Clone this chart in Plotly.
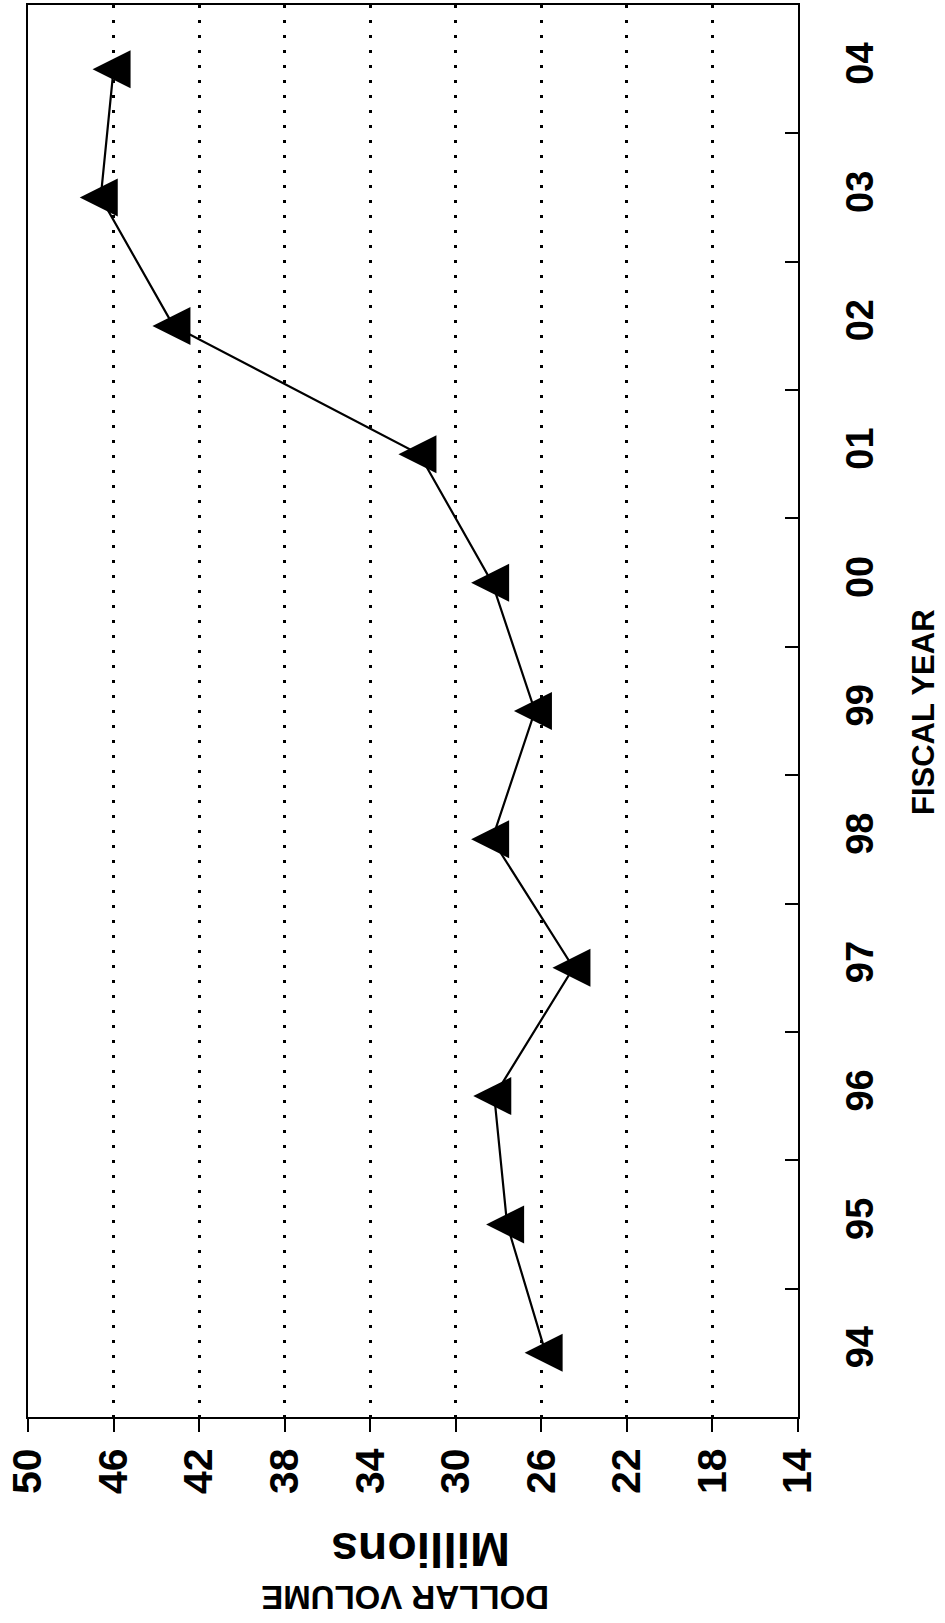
import plotly.graph_objects as go

# ---- data ----
years = ["94", "95", "96", "97", "98", "99", "00", "01", "02", "03", "04"]
dollar_volume = [25.8, 27.6, 28.2, 24.5, 28.3, 26.3, 28.3, 31.7, 43.2, 46.6, 46.0]
x_ticks = [50, 46, 42, 38, 34, 30, 26, 22, 18, 14]
x_title_line1 = "DOLLAR VOLUME"
x_title_line2 = "Millions"
y_title = "FISCAL YEAR"

FONT = "Liberation Sans, Arial, sans-serif"

# plot area in pixels (from reference)
PL, PR, PT, PB = 28, 798, 3, 1417
W, H = 945, 1623


def px_x(p):
    return (p - PL) / (PR - PL)


def px_y(p):
    return (PB - p) / (PB - PT)


fig = go.Figure(
    go.Scatter(
        x=dollar_volume,
        y=years,
        mode="lines+markers",
        line=dict(color="black", width=2.2),
        marker=dict(symbol="arrow-down", angle=90, standoff=21, size=38, color="black"),
        showlegend=False,
    )
)

xtickfont = dict(family=FONT, size=41, color="black", weight="bold")
ytickfont = dict(family=FONT, size=38, color="black", weight="bold")

fig.update_layout(
    width=W,
    height=H,
    margin=dict(l=PL, r=W - PR, t=PT, b=H - PB, pad=0),
    plot_bgcolor="white",
    paper_bgcolor="white",
    showlegend=False,
    xaxis=dict(
        range=[50, 14],
        tickmode="array",
        tickvals=x_ticks,
        ticktext=[str(v) for v in x_ticks],
        ticks="outside",
        ticklen=13,
        tickwidth=1.5,
        tickcolor="black",
        showline=True,
        linecolor="black",
        linewidth=2,
        mirror=True,
        showgrid=True,
        gridcolor="black",
        gridwidth=2.5,
        griddash="3px,12px",
        zeroline=False,
        tickangle=-90,
        tickfont=xtickfont,
        ticklabelstandoff=0,
    ),
    yaxis=dict(
        type="category",
        categoryorder="array",
        categoryarray=years,
        range=[-0.5, 10.5],
        side="right",
        tickson="boundaries",
        ticks="inside",
        ticklen=13,
        tickwidth=1.5,
        tickcolor="black",
        showline=True,
        linecolor="black",
        linewidth=2,
        mirror=True,
        showgrid=False,
        zeroline=False,
        tickangle=-90,
        tickfont=ytickfont,
        ticklabelstandoff=27,
    ),
    annotations=[
        dict(
            text=y_title, xref="paper", yref="paper",
            x=px_x(924), y=px_y(711), xanchor="center", yanchor="middle",
            textangle=-90, showarrow=False,
            font=dict(family=FONT, size=31, color="black", weight="bold"),
        ),
        dict(
            text=x_title_line2, xref="paper", yref="paper",
            x=px_x(421), y=px_y(1549), xanchor="center", yanchor="middle",
            textangle=180, showarrow=False,
            font=dict(family=FONT, size=48, color="black", weight="bold"),
        ),
        dict(
            text=x_title_line1, xref="paper", yref="paper",
            x=px_x(405), y=px_y(1598), xanchor="center", yanchor="middle",
            textangle=180, showarrow=False,
            font=dict(family=FONT, size=33, color="black", weight="bold"),
        ),
    ],
)

fig.write_html(
    "out.html",
    config={"displayModeBar": False},
    post_script=(
        "document.body.style.margin='0';"
        "document.body.style.overflow='hidden';"
        "document.documentElement.style.overflow='hidden';"
    ),
)
